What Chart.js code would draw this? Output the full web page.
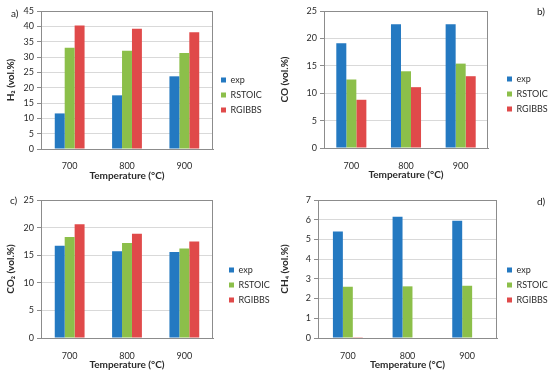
<!DOCTYPE html>
<html lang="en">
<head>
<meta charset="UTF-8" />
<title>Gas composition vs temperature</title>
<script src="https://cdn.jsdelivr.net/npm/chart.js"></script>
<style>
    body {
        margin: 0;
        background: #ffffff;
        width: 550px;
        height: 373px;
        position: relative;
        overflow: hidden;
        font-family: Lato, 'Open Sans', sans-serif;
    }
    .panel {
        position: absolute;
    }
    .tag {
        position: absolute;
        font-size: 10px;
        color: #222;
    }
</style>
</head>
<body>

<div class="panel" style="left:0;top:0;width:275px;height:186px"><canvas id="chartA"></canvas></div>
<div class="panel" style="left:275px;top:0;width:275px;height:186px"><canvas id="chartB"></canvas></div>
<div class="panel" style="left:0;top:186px;width:275px;height:187px"><canvas id="chartC"></canvas></div>
<div class="panel" style="left:275px;top:186px;width:275px;height:187px"><canvas id="chartD"></canvas></div>

<span class="tag" style="left:11px;top:7px">a)</span>
<span class="tag" style="left:537px;top:5px">b)</span>
<span class="tag" style="left:10px;top:194px">c)</span>
<span class="tag" style="left:537px;top:195px">d)</span>

<script>
    // categories and series
    const temps = ['700', '800', '900'];
    const seriesNames = ['exp', 'RSTOIC', 'RGIBBS'];
    const seriesColors = ['#2479c1', '#8cbf4a', '#e04a4a'];

    // a) H2
    const h2Exp = [11.6, 17.5, 23.7];
    const h2Rstoic = [33.0, 32.0, 31.3];
    const h2Rgibbs = [40.3, 39.2, 38.1];

    // b) CO
    const coExp = [19.1, 22.6, 22.6];
    const coRstoic = [12.5, 14.0, 15.4];
    const coRgibbs = [8.8, 11.1, 13.1];

    // c) CO2
    const co2Exp = [16.7, 15.7, 15.6];
    const co2Rstoic = [18.3, 17.2, 16.2];
    const co2Rgibbs = [20.6, 18.9, 17.5];

    // d) CH4
    const ch4Exp = [5.4, 6.15, 5.95];
    const ch4Rstoic = [2.6, 2.62, 2.65];
    const ch4Rgibbs = [0.04, 0, 0];

    const xTitle = 'Temperature (°C)';
    const fontFamily = 'Lato, "Open Sans", sans-serif';
    const textColor = '#2b2b2b';
    const legendFont = 9;
    const legendPad = 6;

    // frame around the plot area (Excel style)
    const frame = {
        id: 'frame',
        beforeDatasetsDraw(chart) {
            const a = chart.chartArea;
            const ctx = chart.ctx;
            ctx.save();
            ctx.strokeStyle = '#8c8c8c';
            ctx.lineWidth = 1;
            ctx.strokeRect(Math.round(a.left) + 0.5, Math.round(a.top) + 0.5,
                Math.round(a.right - a.left) - 1, Math.round(a.bottom - a.top));
            ctx.restore();
        }
    };

    // move the legend box next to the plot like in the original figure
    const legendPlace = {
        id: 'legendPlace',
        afterLayout(chart, args, opts) {
            const lg = chart.legend;
            lg.left = opts.x - legendPad;
            lg.right = chart.width;
            lg.top = opts.y - legendPad - legendFont / 2;
            lg.bottom = chart.height;
        }
    };

    function makeChart(id, yTitle, values, yMax, yStep, box) {
        return new Chart(document.getElementById(id), {
            type: 'bar',
            data: {
                labels: temps,
                datasets: values.map((v, i) => ({
                    label: seriesNames[i],
                    data: v,
                    backgroundColor: seriesColors[i],
                    borderWidth: 0,
                    categoryPercentage: box.cat,
                    barPercentage: 1.0
                }))
            },
            options: {
                responsive: true,
                maintainAspectRatio: false,
                animation: false,
                layout: { padding: { top: box.top, left: 0, right: box.padRight, bottom: 0 } },
                plugins: {
                    legend: {
                        position: 'right',
                        align: 'start',
                        maxWidth: 40,
                        labels: {
                            boxWidth: 5,
                            boxHeight: 5,
                            padding: legendPad,
                            color: textColor,
                            font: { family: fontFamily, size: legendFont }
                        }
                    },
                    legendPlace: { x: box.legX, y: box.legY },
                    tooltip: { enabled: false }
                },
                scales: {
                    x: {
                        grid: { display: false },
                        border: { color: '#8c8c8c' },
                        ticks: { color: textColor, padding: box.xTickPad, font: { family: fontFamily, size: 9 } },
                        title: {
                            display: true, text: xTitle, color: textColor,
                            font: { family: fontFamily, size: 10, weight: 'bold' },
                            padding: { top: 0, bottom: box.xTitlePad }
                        },
                        afterFit: s => { s.height = box.xH; }
                    },
                    y: {
                        min: 0,
                        max: yMax,
                        grid: { color: '#d9d9d9', tickColor: '#8c8c8c', tickLength: 4 },
                        border: { color: '#8c8c8c' },
                        ticks: { stepSize: yStep, color: textColor, padding: 3, font: { family: fontFamily, size: 9 } },
                        title: {
                            display: true, text: yTitle, color: textColor,
                            font: { family: fontFamily, size: 10, weight: 'bold' },
                            padding: { top: box.yTitlePad, bottom: 0 }
                        },
                        afterFit: s => { s.width = box.yW; }
                    }
                }
            },
            plugins: [frame, legendPlace]
        });
    }

    makeChart('chartA', 'H₂ (vol.%)', [h2Exp, h2Rstoic, h2Rgibbs], 45, 5,
        { top: 11, yW: 41, xH: 37, padRight: 22, legX: 221, legY: 80, cat: 0.52, xTickPad: 4, xTitlePad: 4, yTitlePad: 5 });
    makeChart('chartB', 'CO (vol.%)', [coExp, coRstoic, coRgibbs], 25, 5,
        { top: 11, yW: 49, xH: 38, padRight: 22, legX: 232, legY: 79, cat: 0.55, xTickPad: 5, xTitlePad: 5, yTitlePad: 4 });
    makeChart('chartC', 'CO₂ (vol.%)', [co2Exp, co2Rstoic, co2Rgibbs], 25, 5,
        { top: 14, yW: 41, xH: 35, padRight: 22, legX: 229, legY: 84, cat: 0.52, xTickPad: 5, xTitlePad: 2, yTitlePad: 5 });
    makeChart('chartD', 'CH₄ (vol.%)', [ch4Exp, ch4Rstoic, ch4Rgibbs], 7, 1,
        { top: 14, yW: 43, xH: 35, padRight: 13, legX: 232, legY: 84, cat: 0.5, xTickPad: 5, xTitlePad: 2, yTitlePad: 4 });
</script>

</body>
</html>
